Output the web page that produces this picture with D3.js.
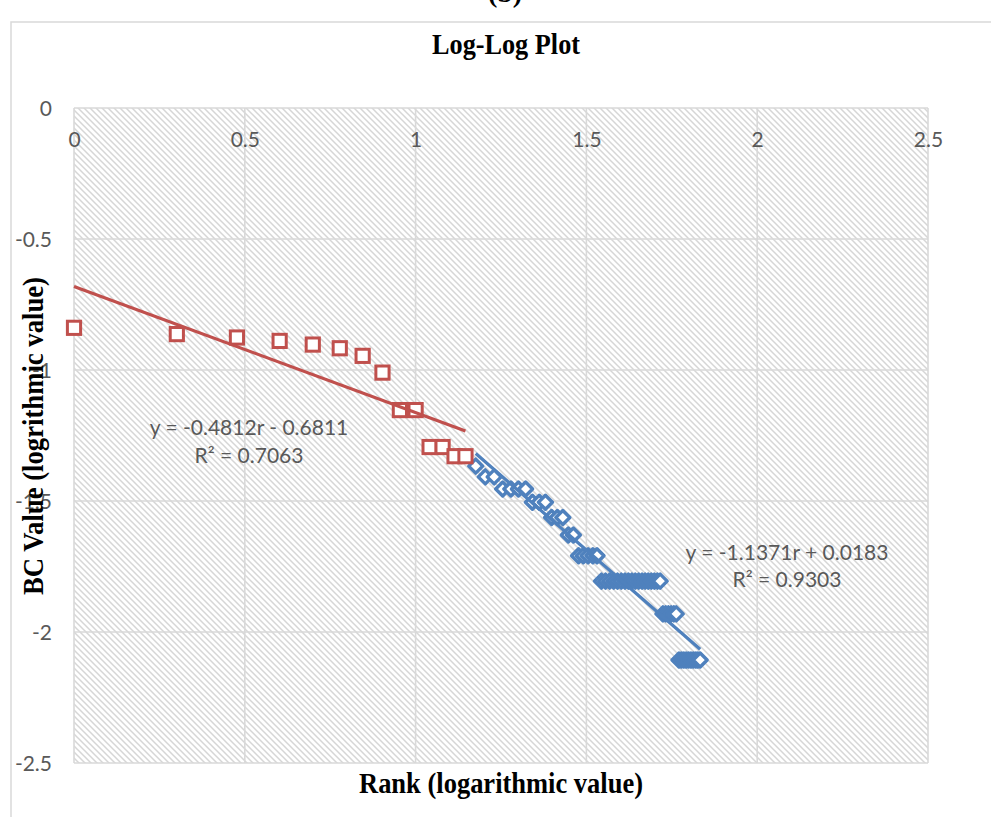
<!DOCTYPE html>
<html>
<head>
<meta charset="utf-8">
<script src="https://cdn.jsdelivr.net/npm/d3@7"></script>
<style>
  html, body { margin: 0; padding: 0; background: #fff; }
  svg { display: block; }
</style>
</head>
<body>
<svg id="chart" width="991" height="817"></svg>
<script>
// ---- data ----
const xTicks = [0, 0.5, 1, 1.5, 2, 2.5];
const yTicks = [0, -0.5, -1, -1.5, -2, -2.5];

// Series 1 (red squares): log rank, log BC value
const redX = [0, 0.301, 0.477, 0.602, 0.699, 0.778, 0.845, 0.903, 0.954, 1.000, 1.041, 1.079, 1.114, 1.146];
const redY = [-0.839, -0.863, -0.876, -0.889, -0.903, -0.917, -0.946, -1.010, -1.153, -1.153, -1.294, -1.294, -1.329, -1.329];

// Series 2 (blue diamonds)
const blueX = [1.176, 1.204, 1.230, 1.255, 1.279, 1.301, 1.322, 1.342, 1.362, 1.380,
               1.398, 1.415, 1.431, 1.447, 1.462, 1.477, 1.491, 1.505, 1.519, 1.531,
               1.544, 1.556, 1.568, 1.580, 1.591, 1.602, 1.613, 1.623, 1.633, 1.643,
               1.653, 1.663, 1.672, 1.681, 1.690, 1.699, 1.708, 1.716, 1.724, 1.732,
               1.740, 1.748, 1.756, 1.763, 1.771, 1.778, 1.785, 1.792, 1.799, 1.806,
               1.813, 1.820, 1.826, 1.833];
const blueY = [-1.367, -1.408, -1.408, -1.454, -1.454, -1.454, -1.454, -1.505, -1.505, -1.505,
               -1.563, -1.563, -1.563, -1.630, -1.630, -1.709, -1.709, -1.709, -1.709, -1.709,
               -1.806, -1.806, -1.806, -1.806, -1.806, -1.806, -1.806, -1.806, -1.806, -1.806,
               -1.806, -1.806, -1.806, -1.806, -1.806, -1.806, -1.806, -1.806, -1.931, -1.931,
               -1.931, -1.931, -1.931, -1.931, -2.107, -2.107, -2.107, -2.107, -2.107, -2.107,
               -2.107, -2.107, -2.107, -2.107];

// Trendline coefficients [slope, intercept] and labels
const redFit = [-0.4812, -0.6811];
const blueFit = [-1.1371, 0.0183];
const redLabels = ["y = -0.4812r - 0.6811", "R² = 0.7063"];
const blueLabels = ["y = -1.1371r + 0.0183", "R² = 0.9303"];

const titleText = "Log-Log Plot";
const xTitle = "Rank (logarithmic value)";
const yTitle = "BC Value (logrithmic value)";
const captionText = "(b)";

// ---- drawing ----
const svg = d3.select("#chart");
const RED = "#C0504D", BLUE = "#4F81BD", GRID = "#d9d9d9", LABEL = "#595959";

const x = d3.scaleLinear().domain([0, 2.5]).range([74, 928]);
const y = d3.scaleLinear().domain([0, -2.5]).range([108, 763]);

const defs = svg.append("defs");
const P = 6;
const pat = defs.append("pattern")
  .attr("id", "hatch").attr("patternUnits", "userSpaceOnUse")
  .attr("width", P).attr("height", P);
pat.append("rect").attr("width", P).attr("height", P).attr("fill", "#fff");
pat.append("path")
  .attr("d", `M0,0 L${P},${P} M-1,${P-1} L1,${P+1} M${P-1},-1 L${P+1},1`)
  .attr("stroke", "#d6d6d6").attr("stroke-width", 1.5);

// caption above chart (cut off in the reference)
svg.append("text").attr("x", 505).attr("y", 2)
  .attr("text-anchor", "middle")
  .attr("font-family", "'Liberation Serif', 'Times New Roman', serif")
  .attr("font-size", 28).attr("font-weight", "bold")
  .attr("fill", "#000").text(captionText);

// chart area
svg.append("rect").attr("x", 11).attr("y", 22).attr("width", 1100).attr("height", 900)
  .attr("fill", "#fff").attr("stroke", "#d9d9d9").attr("stroke-width", 1.5);

// plot area
svg.append("rect")
  .attr("x", x(0)).attr("y", y(0))
  .attr("width", x(2.5) - x(0)).attr("height", y(-2.5) - y(0))
  .attr("fill", "url(#hatch)");

// gridlines
svg.append("g").selectAll("line").data(xTicks).join("line")
  .attr("x1", d => x(d)).attr("x2", d => x(d))
  .attr("y1", y(0)).attr("y2", y(-2.5))
  .attr("stroke", GRID).attr("stroke-width", 1.6);
svg.append("g").selectAll("line").data(yTicks).join("line")
  .attr("x1", x(0)).attr("x2", x(2.5))
  .attr("y1", d => y(d)).attr("y2", d => y(d))
  .attr("stroke", GRID).attr("stroke-width", 1.6);

// axes (labels only)
const fmt = d => String(d);
const xAxis = svg.append("g").attr("transform", `translate(0,${y(0)})`)
  .call(d3.axisBottom(x).tickValues(xTicks).tickFormat(fmt).tickSize(0).tickPadding(24));
const yAxis = svg.append("g").attr("transform", `translate(${x(0)},0)`)
  .call(d3.axisLeft(y).tickValues(yTicks).tickFormat(fmt).tickSize(0).tickPadding(22));
[xAxis, yAxis].forEach(g => {
  g.select(".domain").remove();
  g.selectAll("text").attr("font-family", "Lato, 'Open Sans', sans-serif")
    .attr("font-size", 21).attr("fill", LABEL);
});
yAxis.selectAll("text").attr("dy", "0.34em");

// markers: blue diamonds
const dsz = 7;
svg.append("g").selectAll("path").data(blueX.map((d, i) => [d, blueY[i]])).join("path")
  .attr("transform", d => `translate(${x(d[0])},${y(d[1])})`)
  .attr("d", `M0,${-dsz} L${dsz},0 L0,${dsz} L${-dsz},0 Z`)
  .attr("fill", "#fff").attr("stroke", BLUE).attr("stroke-width", 3.4)
  .attr("stroke-linejoin", "round");

// markers: red squares
const ssz = 13.2;
svg.append("g").selectAll("rect").data(redX.map((d, i) => [d, redY[i]])).join("rect")
  .attr("x", d => x(d[0]) - ssz / 2).attr("y", d => y(d[1]) - ssz / 2)
  .attr("width", ssz).attr("height", ssz)
  .attr("fill", "#fff").attr("stroke", RED).attr("stroke-width", 3);

// trendlines
function trend(xs, fit, color) {
  const x0 = d3.min(xs), x1 = d3.max(xs);
  svg.append("line")
    .attr("x1", x(x0)).attr("y1", y(fit[0] * x0 + fit[1]))
    .attr("x2", x(x1)).attr("y2", y(fit[0] * x1 + fit[1]))
    .attr("stroke", color).attr("stroke-width", 3.2);
}
trend(redX, redFit, RED);
trend(blueX, blueFit, BLUE);

// equation labels
function eq(lines, cx, by) {
  lines.forEach((t, i) => {
    svg.append("text").attr("x", cx).attr("y", by + i * 27.5)
      .attr("text-anchor", "middle")
      .attr("font-family", "Lato, 'Open Sans', sans-serif")
      .attr("font-size", 21).attr("fill", LABEL).text(t);
  });
}
eq(redLabels, 249, 435);
eq(blueLabels, 787, 559.5);

// titles
const serif = "'Liberation Serif', 'Times New Roman', serif";
svg.append("text").attr("x", 506).attr("y", 54)
  .attr("text-anchor", "middle").attr("font-family", serif)
  .attr("font-size", 30).attr("font-weight", "bold")
  .attr("textLength", 148).attr("lengthAdjust", "spacingAndGlyphs")
  .text(titleText);
svg.append("text").attr("x", 501).attr("y", 793)
  .attr("text-anchor", "middle").attr("font-family", serif)
  .attr("font-size", 30).attr("font-weight", "bold")
  .attr("textLength", 284).attr("lengthAdjust", "spacingAndGlyphs")
  .text(xTitle);
svg.append("text")
  .attr("transform", "translate(43,436) rotate(-90)")
  .attr("text-anchor", "middle").attr("font-family", serif)
  .attr("font-size", 30).attr("font-weight", "bold")
  .attr("textLength", 318).attr("lengthAdjust", "spacingAndGlyphs")
  .text(yTitle);
</script>
</body>
</html>
